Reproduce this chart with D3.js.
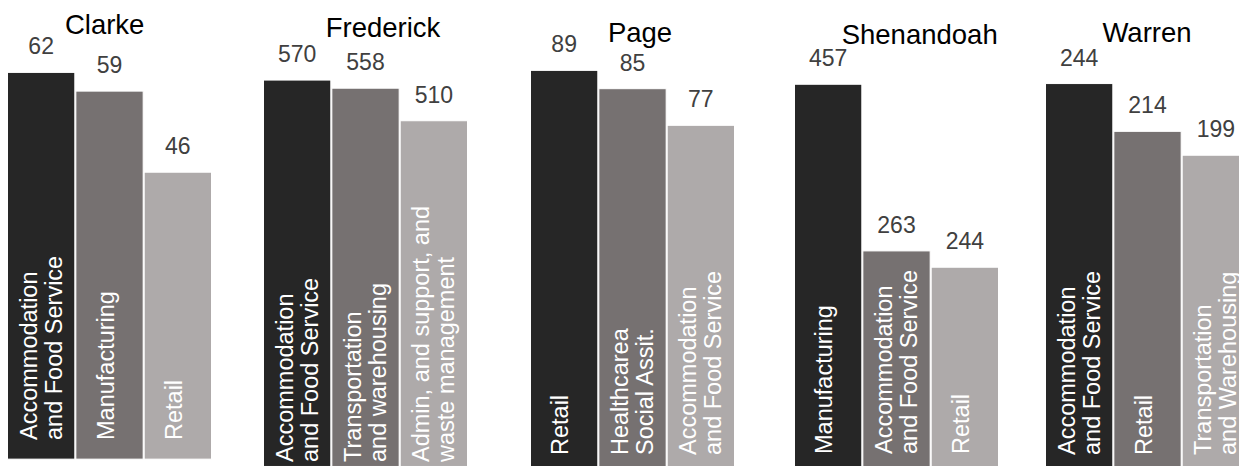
<!DOCTYPE html>
<html>
<head>
<meta charset="utf-8">
<script src="https://cdn.jsdelivr.net/npm/d3@7/dist/d3.min.js"></script>
<style>
  html, body { margin: 0; padding: 0; background: #ffffff; }
  svg { display: block; font-family: "Liberation Sans", Arial, sans-serif; }
</style>
</head>
<body>
<svg id="chart" width="1239" height="466"></svg>
<script>
// ---- data ----
const counties = ["Clarke", "Frederick", "Page", "Shenandoah", "Warren"];
const industries = [
  ["Accommodation\nand Food Service", "Manufacturing", "Retail"],
  ["Accommodation\nand Food Service", "Transportation\nand warehousing", "Admin, and support, and\nwaste management"],
  ["Retail", "Healthcarea\nSocial Assit.", "Accommodation\nand Food Service"],
  ["Manufacturing", "Accommodation\nand Food Service", "Retail"],
  ["Accommodation\nand Food Service", "Retail", "Transportation\nand Warehousing"]
];
const values = [
  [62, 59, 46],
  [570, 558, 510],
  [89, 85, 77],
  [457, 263, 244],
  [244, 214, 199]
];
// per-panel value axis extents (each county has its own scale)
const axisMin = [-1.1, 0.7, 2.6, 12.6, 3.9];
const axisMax = [70.4, 658.6, 100, 531.8, 283.9];

// ---- layout ----
const W = 1239, H = 466;
const plotBottom = 466, plotTop = 20;
const panelX = [8, 264, 531, 795, 1046];
const panelW = 203;
const titleX = [104.7, 383, 640, 919.7, 1147];
const titleY = [34, 37, 41.5, 44, 41.5];
const labelBase = [440, 462, 455, 454, 455];
const colors = ["#262626", "#767171", "#AEAAAA"];

const svg = d3.select("#chart");

counties.forEach((county, p) => {
  const g = svg.append("g");
  const x = d3.scaleBand()
    .domain(d3.range(values[p].length))
    .range([panelX[p] - 0.5, panelX[p] + panelW + 0.5])
    .paddingInner(0.015)
    .paddingOuter(0);
  const y = d3.scaleLinear()
    .domain([axisMin[p], axisMax[p]])
    .range([plotBottom, plotTop]);

  // bars
  g.selectAll("rect.bar")
    .data(values[p])
    .join("rect")
    .attr("class", "bar")
    .attr("x", (d, i) => x(i))
    .attr("width", x.bandwidth())
    .attr("y", d => y(d))
    .attr("height", d => y(0) - y(d))
    .attr("fill", (d, i) => colors[i])
    .attr("stroke", "#ffffff")
    .attr("stroke-width", 1);

  // value labels
  g.selectAll("text.val")
    .data(values[p])
    .join("text")
    .attr("class", "val")
    .attr("x", (d, i) => x(i) + x.bandwidth() / 2)
    .attr("y", d => y(d) - 18)
    .attr("text-anchor", "middle")
    .attr("font-size", 23)
    .attr("fill", "#404040")
    .text(d => d);

  // category labels inside bars (rotated)
  industries[p].forEach((lab, i) => {
    const lines = lab.split("\n");
    const n = lines.length;
    const cx = x(i) + x.bandwidth() / 2;
    const t = g.append("text")
      .attr("transform", `translate(${cx},${labelBase[p]}) rotate(-90)`)
      .attr("font-size", 23.5)
      .attr("fill", "#ffffff")
      .attr("text-anchor", "start");
    lines.forEach((ln, k) => {
      t.append("tspan")
        .attr("x", 0)
        .attr("y", (k - (n - 1) / 2) * 25 + (n === 1 ? 4 : 8))
        .text(ln);
    });
  });

  // county title
  svg.append("text")
    .attr("x", titleX[p])
    .attr("y", titleY[p])
    .attr("text-anchor", "middle")
    .attr("font-size", 27.5)
    .attr("fill", "#000000")
    .text(county);
});
</script>
</body>
</html>
